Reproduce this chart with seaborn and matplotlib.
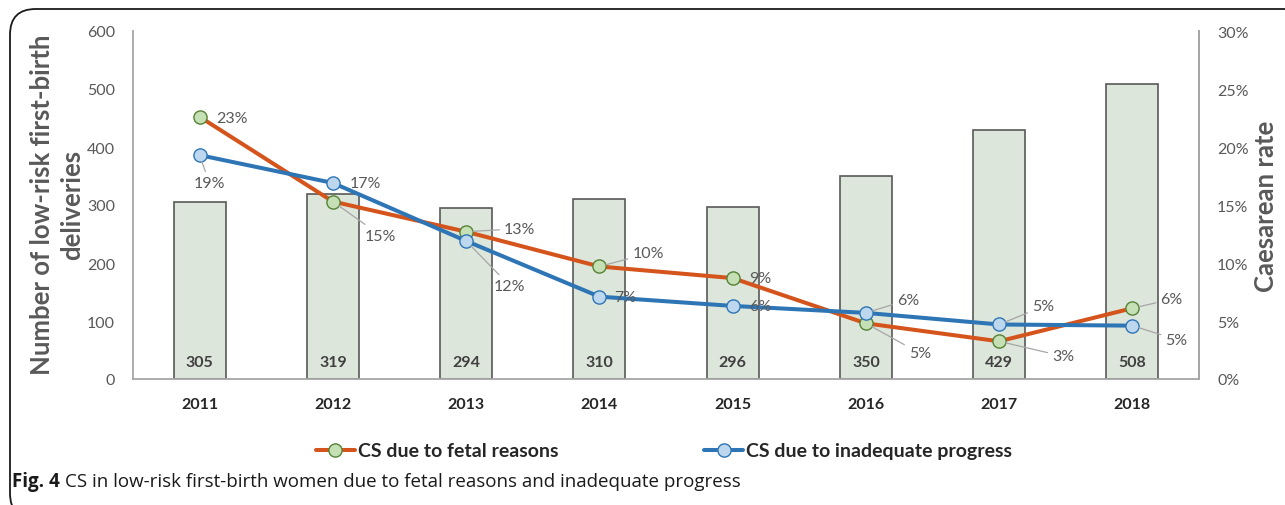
import numpy as np
import pandas as pd
import seaborn as sns
import matplotlib
matplotlib.use("Agg")
import matplotlib.pyplot as plt
from matplotlib.patches import FancyBboxPatch
from matplotlib.lines import Line2D

# ---------------- data ----------------
years = ["2011", "2012", "2013", "2014", "2015", "2016", "2017", "2018"]
deliveries = [305, 319, 294, 310, 296, 350, 429, 508]
cs_fetal = [22.6, 15.3, 12.7, 9.7, 8.7, 4.8, 3.25, 6.1]          # %
cs_progress = [19.3, 16.9, 11.9, 7.1, 6.3, 5.7, 4.7, 4.6]       # %
left_ticks = [0, 100, 200, 300, 400, 500, 600]
right_ticks = [0, 5, 10, 15, 20, 25, 30]
series_names = ["CS due to fetal reasons", "CS due to inadequate progress"]

# ---------------- style ----------------
sns.set_theme(style="white")
plt.rcParams["font.family"] = ["Lato", "DejaVu Sans"]

W, H = 1285, 506
fig = plt.figure(figsize=(W / 100, H / 100), dpi=100)

def px2fig(x, y):
    return x / W, 1 - y / H

# outer rounded frame (cut at the right / bottom)
frame = FancyBboxPatch((10 / W, 1 - 520 / H), 1300 / W, 510 / H,
                       boxstyle="round,pad=0,rounding_size=0.02",
                       transform=fig.transFigure, fill=False,
                       edgecolor="#1a1a1a", linewidth=1.3, mutation_aspect=W / H)
fig.patches.append(frame)

ax_l, ax_b = px2fig(133, 380)
ax_r, ax_t = px2fig(1199, 32)
ax = fig.add_axes([ax_l, ax_b, ax_r - ax_l, ax_t - ax_b])

gray_txt = "#595959"
axis_col = "#a6a6a6"

df_bar = pd.DataFrame({"year": years, "n": deliveries})
sns.barplot(data=df_bar, x="year", y="n", ax=ax, color="#dce6da",
            saturation=1, width=0.39, edgecolor="#595959", linewidth=1.2)

ax.set_xlim(-0.5, len(years) - 0.5)
ax.set_ylim(0, 600)
ax.set_yticks(left_ticks)
ax.set_yticklabels([str(t) for t in left_ticks], fontsize=11.5, color=gray_txt)
ax.tick_params(axis="y", length=0, pad=13)
ax.tick_params(axis="x", length=0, pad=13)
ax.set_xticks(range(len(years)))
ax.set_xticklabels(years, fontsize=11.5, fontweight="bold", color="#262626")
ax.set_xlabel("")
ax.set_ylabel("")
ax.spines["top"].set_visible(False)
for s in ["left", "bottom", "right"]:
    ax.spines[s].set_color(axis_col)
    ax.spines[s].set_linewidth(1.3)

# bar value labels
for i, v in enumerate(deliveries):
    ax.text(i, 30, str(v), ha="center", va="center", fontsize=11.5,
            fontweight="bold", color="#404040")

# ---------------- lines ----------------
ax2 = ax.twinx()
xpos = np.arange(len(years))
fetal_col, prog_col = "#d4541c", "#2e75b6"
sns.lineplot(x=xpos, y=cs_fetal, ax=ax2, color=fetal_col, linewidth=2.9,
             marker="o", markersize=9.5, markerfacecolor="#c5e0b4",
             markeredgecolor="#548235", markeredgewidth=1.0, zorder=4)
sns.lineplot(x=xpos, y=cs_progress, ax=ax2, color=prog_col, linewidth=2.9,
             marker="o", markersize=9.5, markerfacecolor="#bdd7ee",
             markeredgecolor="#2e75b6", markeredgewidth=1.0, zorder=5)
ax2.set_ylim(0, 30)
ax2.set_yticks(right_ticks)
ax2.set_yticklabels([f"{t}%" for t in right_ticks], fontsize=11.5, color=gray_txt)
ax2.tick_params(axis="y", length=0, pad=13)
ax2.set_xlim(-0.5, len(years) - 0.5)
for s in ["top", "left", "bottom"]:
    ax2.spines[s].set_visible(False)
ax2.spines["right"].set_color(axis_col)
ax2.spines["right"].set_linewidth(1.3)
ax2.set_ylabel("")

# data labels: offsets in pixels (dx right, dy down), leader line flag
fetal_off = [(17, 1, False), (32, 34, True), (38, -3, True), (33, -13, True),
             (16, 0, False), (43, 30, True), (53, 15, True), (28, -9, True)]
prog_off = [(-6, 28, True), (17, 0, False), (28, 45, True), (15, 0, False),
            (16, 0, False), (31, -13, True), (33, -18, True), (33, 14, True)]

def add_labels(vals, offs):
    for i, (v, (dx, dy, lead)) in enumerate(zip(vals, offs)):
        kw = {}
        if lead:
            kw["arrowprops"] = dict(arrowstyle="-", color="#a6a6a6", lw=0.9,
                                    shrinkA=1, shrinkB=5)
        ax2.annotate(f"{round(v):d}%", xy=(i, v), xytext=(dx * 0.72, -dy * 0.72),
                     textcoords="offset points", ha="left", va="center",
                     fontsize=11.5, color=gray_txt, zorder=6, **kw)

add_labels(cs_fetal, fetal_off)
add_labels(cs_progress, prog_off)

# axis titles
fig.text(*px2fig(57, 205), "Number of low-risk first-birth\ndeliveries",
         rotation=90, ha="center", va="center", fontsize=18.5,
         fontweight="bold", color=gray_txt, linespacing=1.3)
fig.text(*px2fig(1266, 206), "Caesarean rate", rotation=90, ha="center",
         va="center", fontsize=18.5, fontweight="bold", color=gray_txt)

# legend
handles = [
    Line2D([], [], color=fetal_col, linewidth=2.9, marker="o", markersize=9.5,
           markerfacecolor="#c5e0b4", markeredgecolor="#548235"),
    Line2D([], [], color=prog_col, linewidth=2.9, marker="o", markersize=9.5,
           markerfacecolor="#bdd7ee", markeredgecolor="#2e75b6"),
]
leg = fig.legend(handles, series_names, loc="center",
                 bbox_to_anchor=px2fig(664, 452), ncol=2, frameon=False,
                 handlelength=2.0, handletextpad=0.15, columnspacing=7.5,
                 prop={"family": ["Lato", "DejaVu Sans"], "weight": "bold",
                       "size": 14})
for t in leg.get_texts():
    t.set_color("#262626")

# caption
cap_x, cap_y = px2fig(12, 482)
t1 = fig.text(cap_x, cap_y, "Fig. 4", ha="left", va="center", fontsize=13.5,
              fontweight="bold", family=["Open Sans", "DejaVu Sans"], color="#1a1a1a")
fig.canvas.draw()
bb = t1.get_window_extent()
fig.text(bb.x1 / W + 5 / W, cap_y,
         "CS in low-risk first-birth women due to fetal reasons and inadequate progress",
         ha="left", va="center", fontsize=13.5, family=["Open Sans", "DejaVu Sans"],
         color="#1a1a1a")

fig.savefig("out.png", dpi=100)
